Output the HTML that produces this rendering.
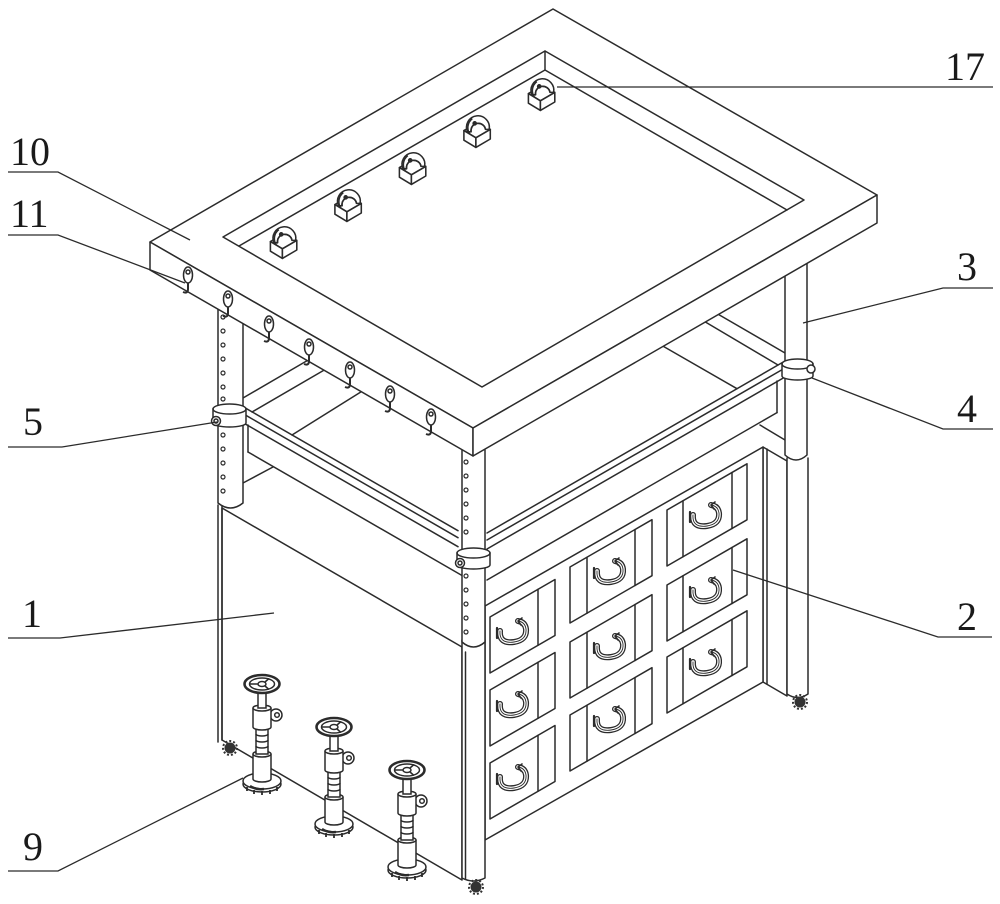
<!DOCTYPE html>
<html>
<head>
<meta charset="utf-8">
<style>
  html,body{margin:0;padding:0;background:#fff;}
  svg{display:block;}
  text{font-family:"Liberation Serif","DejaVu Serif",serif;font-size:40px;fill:#1a1a1a;}
</style>
</head>
<body>
<svg width="1000" height="904" viewBox="0 0 1000 904" xmlns="http://www.w3.org/2000/svg">
<rect width="1000" height="904" fill="#fff"/>
<defs>
  <g id="hd" fill="none" stroke-linecap="round">
    <path d="M-14,-2 Q-15,11 0,9 Q13,7 12,-4 Q11,-11 4,-12" stroke="#2b2b2b" stroke-width="6"/>
    <path d="M-14,-2 Q-15,11 0,9 Q13,7 12,-4 Q11,-11 4,-12" stroke="#fff" stroke-width="3.4"/>
    <path d="M-14,-2 Q-15,11 0,9 Q13,7 12,-4 Q11,-11 4,-12" stroke="#2b2b2b" stroke-width="0.9"/>
    <path d="M-17,-5 L-17,5" stroke="#2b2b2b" stroke-width="2.2"/>
    <path d="M4,-12 L8,-15 M4,-12 L7,-8" stroke="#2b2b2b" stroke-width="1.6"/>
  </g>
  <g id="hook" stroke="#2b2b2b" stroke-width="1.5">
    <ellipse cx="0" cy="-3" rx="4.5" ry="8" fill="#fff"/>
    <circle cx="0" cy="-6" r="2" fill="#fff"/>
    <path d="M0,5 L0,11 Q0,16 -5,14" fill="none" stroke-width="2"/>
  </g>
  <g id="clip" stroke="#2b2b2b" stroke-width="1.3" stroke-linejoin="round">
    <polygon points="-13,3 -1,-4 9,2 -3,9" fill="#fff"/>
    <polygon points="-13,3 -3,9 -3,17 -13,11" fill="#fff"/>
    <polygon points="-3,9 9,2 9,10 -3,17" fill="#fff"/>
    <path d="M-10,4 A9.5,9.5 0 1 1 8,2 L5,2 A6,6 0 1 0 -7,4 Z" fill="#fff"/>
    <path d="M-7,4 A6,6 0 1 1 5,2" fill="none"/>
    <path d="M-8,6 A9.5,9.5 0 0 1 -6,-7" fill="none"/>
    <circle cx="-4" cy="-3" r="1.3" fill="#2b2b2b"/>
  </g>
  <g id="foot" stroke="#2b2b2b" stroke-width="1.5">
    <ellipse cx="0" cy="100" rx="19" ry="8" fill="#fff"/>
    <ellipse cx="0" cy="97" rx="19" ry="8" fill="#fff"/>
    <path d="M-15,103 l0,4 M-8,106 l0,4 M0,107 l0,4 M8,106 l0,4 M15,103 l0,4" stroke-width="1.8"/>
    <path d="M-12,102 q6,4 14,3" stroke-width="2.5"/>
    <path d="M-9,70 L-9,95 A9,3 0 0 0 9,95 L9,70" fill="#fff"/>
    <ellipse cx="0" cy="70" rx="9" ry="3" fill="#fff"/>
    <rect x="-6" y="44" width="12" height="26" fill="#fff"/>
    <path d="M-6,50 A6,2 0 0 0 6,50 M-6,56 A6,2 0 0 0 6,56 M-6,62 A6,2 0 0 0 6,62" fill="none"/>
    <circle cx="14" cy="31" r="6" fill="#fff"/>
    <circle cx="15" cy="31" r="2.3" fill="#fff"/>
    <path d="M-9,24 L-9,43 A9,3 0 0 0 9,43 L9,24" fill="#fff"/>
    <ellipse cx="0" cy="24" rx="9" ry="3" fill="#fff"/>
    <rect x="-4" y="6" width="8" height="18" fill="#fff"/>
    <ellipse cx="0" cy="0" rx="17.5" ry="9" fill="#fff" stroke-width="2.6"/>
    <ellipse cx="0" cy="0" rx="12.5" ry="6" fill="none"/>
    <ellipse cx="0" cy="0" rx="4" ry="2.5" fill="#fff"/>
    <path d="M-4,0 L-12,0 M3,-2 L7,-5.5 M3,2 L7,5.5" fill="none"/>
  </g>
  <g id="caster">
    <circle cx="0" cy="0" r="5.5" fill="#333"/>
    <circle cx="0" cy="0" r="7" fill="none" stroke="#333" stroke-width="2" stroke-dasharray="2 2"/>
  </g>
</defs>

<g fill="none" stroke="#2b2b2b" stroke-width="1.5" stroke-linejoin="round" stroke-linecap="round">

  <!-- body 1 left face -->
  <polygon points="222,508 462,647 462,880 222,740" fill="#fff"/>
  <line x1="218" y1="505" x2="218" y2="742"/>

  <!-- cabinet 2 -->
  <polygon points="763,447 787,461 787,696 763,682" fill="#fff"/>
  <polygon points="485,606 763,447 763,682 485,840" fill="#fff"/>
  <line x1="767" y1="449" x2="767" y2="684"/>

  <!-- drawers left column -->
  <polygon points="490,617 555,579.5 555,635.5 490,673"/>
  <line x1="538" y1="589.3" x2="538" y2="645.3"/>
  <polygon points="490,690 555,652.5 555,708.5 490,746"/>
  <line x1="538" y1="662.3" x2="538" y2="718.3"/>
  <polygon points="490,763 555,725.5 555,781.5 490,819"/>
  <line x1="538" y1="735.3" x2="538" y2="791.3"/>
  <!-- middle column -->
  <polygon points="570,567 652,519.7 652,575.7 570,623"/>
  <line x1="587" y1="557.2" x2="587" y2="613.2"/>
  <line x1="635" y1="529.5" x2="635" y2="585.5"/>
  <polygon points="570,642 652,594.7 652,650.7 570,698"/>
  <line x1="587" y1="632.2" x2="587" y2="688.2"/>
  <line x1="635" y1="604.5" x2="635" y2="660.5"/>
  <polygon points="570,715 652,667.7 652,723.7 570,771"/>
  <line x1="587" y1="705.2" x2="587" y2="761.2"/>
  <line x1="635" y1="677.5" x2="635" y2="733.5"/>
  <!-- right column -->
  <polygon points="667,510 747,463.8 747,519.8 667,566"/>
  <line x1="683" y1="500.8" x2="683" y2="556.8"/>
  <line x1="732" y1="472.5" x2="732" y2="528.5"/>
  <polygon points="667,585 747,538.8 747,594.8 667,641"/>
  <line x1="683" y1="575.8" x2="683" y2="631.8"/>
  <line x1="732" y1="547.5" x2="732" y2="603.5"/>
  <polygon points="667,657 747,610.8 747,666.8 667,713"/>
  <line x1="683" y1="647.8" x2="683" y2="703.8"/>
  <line x1="732" y1="619.5" x2="732" y2="675.5"/>

  <!-- middle lifting frame: back beams & cross pieces -->
  <line x1="243" y1="398" x2="310" y2="359"/>
  <line x1="252" y1="412" x2="326" y2="369"/>
  <line x1="292" y1="435" x2="364" y2="390"/>
  <line x1="785" y1="353" x2="716" y2="313"/>
  <line x1="778" y1="365" x2="702" y2="320"/>
  <line x1="737" y1="388.7" x2="661" y2="345"/>
  <line x1="243" y1="483" x2="273" y2="467"/>
  <line x1="760" y1="425" x2="785" y2="440"/>

  <!-- front-left beam -->
  <line x1="245" y1="407.8" x2="458" y2="530.7"/>
  <line x1="245" y1="414.8" x2="458" y2="537.7"/>
  <line x1="245" y1="423.8" x2="458" y2="546.7"/>
  <line x1="248" y1="425" x2="248" y2="452"/>
  <line x1="248" y1="452" x2="462" y2="575.5"/>
  <!-- front-right beam -->
  <line x1="487" y1="533" x2="785" y2="361"/>
  <line x1="487" y1="540" x2="785" y2="368"/>
  <line x1="487" y1="549" x2="785" y2="377"/>
  <line x1="487" y1="580" x2="777" y2="412.6"/>
  <line x1="777" y1="381" x2="777" y2="412.6"/>

  <!-- right leg -->
  <path d="M787,458 L787,694 Q797.5,701 808,694 L808,458" fill="#fff"/>
  <path d="M785,255 L785,455 Q796,465 807,455 L807,255" fill="#fff"/>
  <!-- left leg -->
  <line x1="222" y1="505" x2="222" y2="740"/>
  <path d="M218,300 L218,503 Q230.5,513 243,503 L243,300" fill="#fff"/>
  <!-- front leg -->
  <path d="M462,640 L462,878 Q473.5,884 485,878 L485,640" fill="#fff"/>
  <line x1="465.5" y1="652" x2="465.5" y2="879"/>
  <path d="M462,450 L462,642 Q473.5,652 485,642 L485,450" fill="#fff"/>

  <!-- holes -->
  <g fill="#fff" stroke-width="1.2">
    <circle cx="223" cy="317" r="2"/><circle cx="223" cy="331" r="2"/><circle cx="223" cy="345" r="2"/>
    <circle cx="223" cy="359" r="2"/><circle cx="223" cy="373" r="2"/><circle cx="223" cy="387" r="2"/>
    <circle cx="223" cy="399" r="2"/>
    <circle cx="223" cy="435" r="2"/><circle cx="223" cy="449" r="2"/><circle cx="223" cy="463" r="2"/>
    <circle cx="223" cy="477" r="2"/><circle cx="223" cy="491" r="2"/>
    <circle cx="466" cy="462" r="2"/><circle cx="466" cy="476" r="2"/><circle cx="466" cy="490" r="2"/>
    <circle cx="466" cy="504" r="2"/><circle cx="466" cy="518" r="2"/><circle cx="466" cy="532" r="2"/>
    <circle cx="466" cy="576" r="2"/><circle cx="466" cy="590" r="2"/><circle cx="466" cy="604" r="2"/>
    <circle cx="466" cy="618" r="2"/><circle cx="466" cy="632" r="2"/>
  </g>

  <!-- collars -->
  <path d="M213,409 A16.5,5 0 0 1 246,409 L246,423 A16.5,4 0 0 1 213,423 Z" fill="#fff"/>
  <path d="M213,409 A16.5,5 0 0 0 246,409"/>
  <circle cx="216" cy="421" r="4.5" fill="#fff"/><circle cx="216" cy="421" r="2"/>
  <path d="M457,553 A16.5,5 0 0 1 490,553 L490,565 A16.5,4 0 0 1 457,565 Z" fill="#fff"/>
  <path d="M457,553 A16.5,5 0 0 0 490,553"/>
  <circle cx="460" cy="563" r="4.5" fill="#fff"/><circle cx="460" cy="563" r="2"/>
  <path d="M782,364 A15.5,5 0 0 1 813,364 L813,376 A15.5,4 0 0 1 782,376 Z" fill="#fff"/>
  <path d="M782,364 A15.5,5 0 0 0 813,364"/>
  <circle cx="811" cy="369" r="4" fill="#fff"/>

  <!-- tabletop 10 -->
  <polygon points="150,242 553,9 877,195 473,428" fill="#fff"/>
  <polygon points="150,242 473,428 473,456 150,270" fill="#fff"/>
  <polygon points="473,428 877,195 877,223 473,456" fill="#fff"/>
  <polygon points="223,237 545,51 804,200 482,387"/>
  <polyline points="239,246 545,70 787,210"/>
  <line x1="545" y1="51" x2="545" y2="70"/>
</g>

<!-- drawer handles -->
<use href="#hd" x="514" y="633"/><use href="#hd" x="514" y="706"/><use href="#hd" x="514" y="779"/>
<use href="#hd" x="611" y="573"/><use href="#hd" x="611" y="648"/><use href="#hd" x="611" y="721"/>
<use href="#hd" x="707" y="517"/><use href="#hd" x="707" y="592"/><use href="#hd" x="707" y="664"/>

<!-- hooks 11 -->
<use href="#hook" x="188" y="278"/><use href="#hook" x="228" y="302"/><use href="#hook" x="269" y="327"/>
<use href="#hook" x="309" y="350"/><use href="#hook" x="350" y="373"/><use href="#hook" x="390" y="397"/>
<use href="#hook" x="431" y="420"/>

<!-- clips 17 -->
<use href="#clip" transform="translate(544,90) scale(1.2)"/>
<use href="#clip" transform="translate(479.5,127) scale(1.2)"/>
<use href="#clip" transform="translate(415,164) scale(1.2)"/>
<use href="#clip" transform="translate(350.5,201) scale(1.2)"/>
<use href="#clip" transform="translate(286,238) scale(1.2)"/>

<!-- casters -->
<use href="#caster" x="230" y="748"/>
<use href="#caster" x="476" y="887"/>
<use href="#caster" x="800" y="702"/>

<!-- feet 9 -->
<use href="#foot" x="262" y="684"/>
<use href="#foot" x="334" y="727"/>
<use href="#foot" x="407" y="770"/>

<!-- leaders -->
<g fill="none" stroke="#2b2b2b" stroke-width="1.3">
  <line x1="557" y1="87" x2="993" y2="87"/>
  <polyline points="8,172 58,172 190,240"/>
  <polyline points="8,235 58,235 185,283"/>
  <polyline points="8,447 62,447 217,422"/>
  <polyline points="8,638 60,638 274,613"/>
  <polyline points="8,871 58,871 243,778"/>
  <polyline points="803,323 943,288 993,288"/>
  <polyline points="812,378 943,429 993,429"/>
  <polyline points="733,570 938,637 992,637"/>
</g>

<!-- labels -->
<text x="945" y="80">17</text>
<text x="10" y="165">10</text>
<text x="10" y="227">11</text>
<text x="23" y="435">5</text>
<text x="22" y="627">1</text>
<text x="23" y="860">9</text>
<text x="957" y="280">3</text>
<text x="957" y="422">4</text>
<text x="957" y="630">2</text>
</svg>
</body>
</html>
